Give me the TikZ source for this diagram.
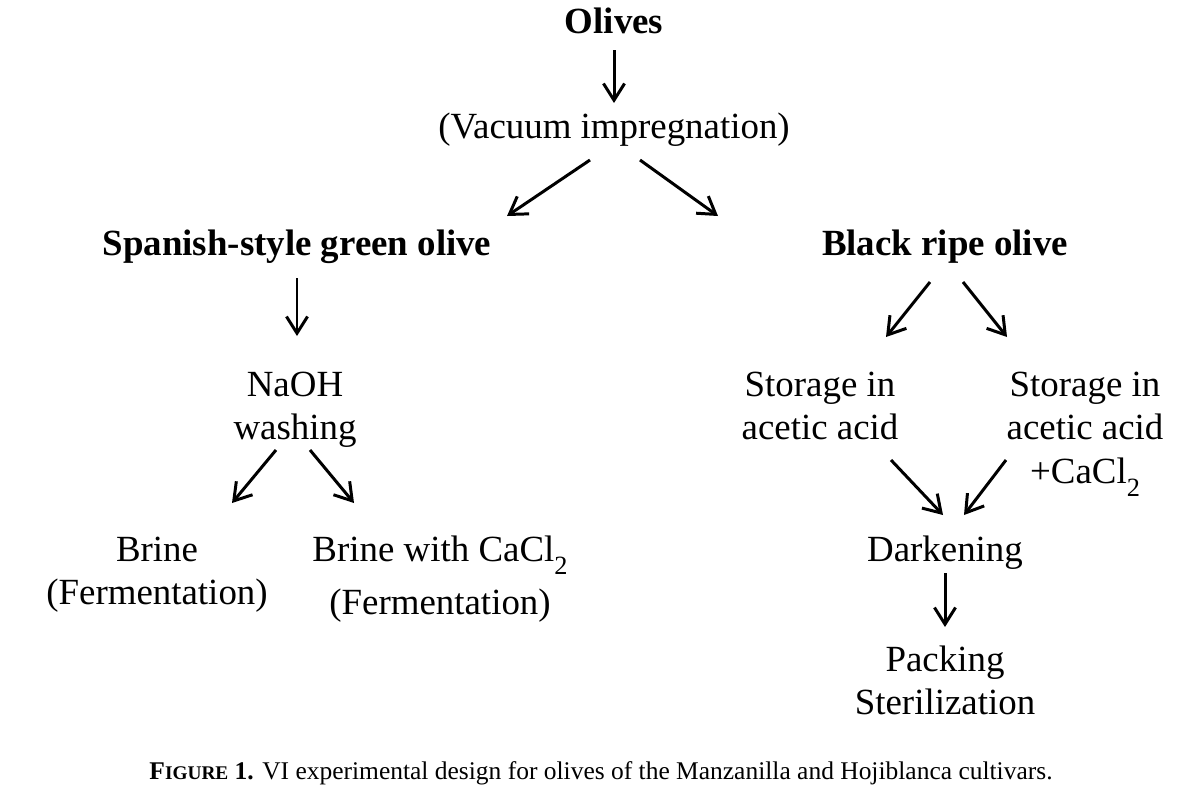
\documentclass[tikz,border=0pt]{standalone}
\usepackage{fontspec}
\setmainfont{Liberation Serif}
\usetikzlibrary{arrows.meta}
\newcommand\mlines[1]{\begin{tabular}[t]{@{}c@{}}#1\end{tabular}}
\newcommand\subtwo{\raisebox{-0.36em}{\fontsize{15}{15}\selectfont 2}}
\begin{document}
\begin{tikzpicture}[x=0.02cm,y=-0.02cm,
  lbl/.style={inner sep=0pt,anchor=base,font=\fontsize{21}{24.8}\selectfont},
  blbl/.style={lbl,font=\fontsize{21}{24.8}\selectfont\bfseries},
  flow/.style={line width=1.7pt,-{Straight Barb[length=9.5pt,width=12pt,line width=1.7pt]}}]
\useasboundingbox (0,0) rectangle (1203,799);
\node[blbl] (olives) at (614,33) {Olives};
\node[lbl] (vac) at (614,138) {(Vacuum impregnation)};
\node[blbl] (spanish) at (297,255) {Spanish-style green olive};
\node[blbl] (black) at (945,255) {Black ripe olive};
\node[lbl] (naoh) at (295,396) {\mlines{NaOH\\washing}};
\node[lbl] (brine) at (157,561) {\mlines{Brine\\(Fermentation)}};
\node[lbl] (brinec) at (440,561) {\mlines{Brine with CaCl\subtwo\\[5.5pt](Fermentation)}};
\node[lbl] (sto1) at (820,396) {\mlines{Storage in\\acetic acid}};
\node[lbl] (sto2) at (1085,396) {\mlines{Storage in\\acetic acid\\+CaCl\subtwo}};
\node[lbl] (dark) at (945,561) {Darkening};
\node[lbl] (pack) at (945,671) {\mlines{Packing\\Sterilization}};
\node[inner sep=0pt,anchor=base,font=\fontsize{14.5}{16}\selectfont] (cap) at (601,779)
  {{\bfseries F{\fontsize{11}{12}\selectfont IGURE} 1.} VI experimental design for olives of the Manzanilla and Hojiblanca cultivars.};
% arrow endpoints
\coordinate (a1s) at (614,50);  \coordinate (a1e) at (614,103);
\coordinate (a2s) at (590,160); \coordinate (a2e) at (507,216);
\coordinate (a3s) at (640,160); \coordinate (a3e) at (718,216);
\coordinate (a4s) at (297,278); \coordinate (a4e) at (297,336);
\coordinate (a5s) at (276,450); \coordinate (a5e) at (232,503);
\coordinate (a6s) at (310,450); \coordinate (a6e) at (354,503);
\coordinate (a7s) at (930,282); \coordinate (a7e) at (886,337);
\coordinate (a8s) at (963,282); \coordinate (a8e) at (1007,337);
\coordinate (a9s) at (891,460); \coordinate (a9e) at (943,515);
\coordinate (a10s) at (1006,460); \coordinate (a10e) at (964,515);
\coordinate (a11s) at (945,573); \coordinate (a11e) at (945,627);
\foreach \i in {1,...,11} \draw[flow] (a\i s) -- (a\i e);
\end{tikzpicture}
\end{document}
